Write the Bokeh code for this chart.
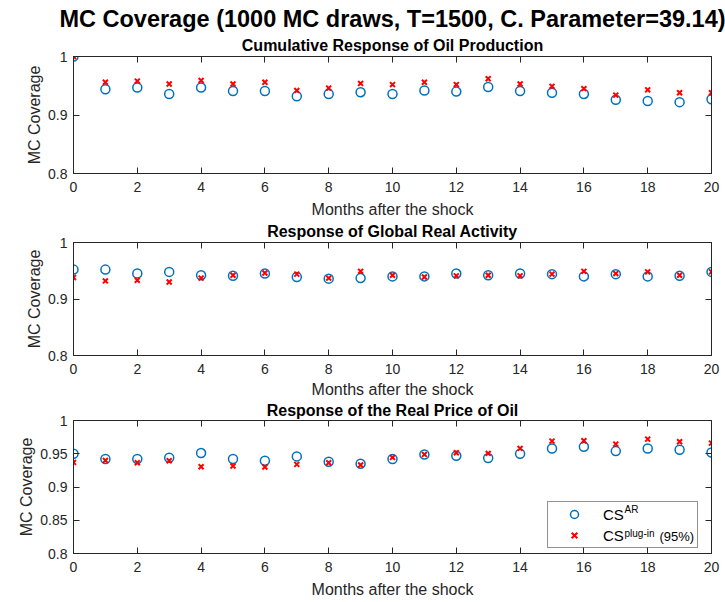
from bokeh.plotting import figure
from bokeh.models import (Range1d, FixedTicker, LinearAxis, CustomJSTickFormatter, Title,
                          Legend, LegendItem, Label, ColumnDataSource)
from bokeh.layouts import column
from bokeh.embed import file_html
from bokeh.resources import INLINE

# ---------------- data ----------------
months = list(range(21))
x_ticks = list(range(0, 21, 2))
x_tick_labels = [str(t) for t in x_ticks]
y_ticks_a = [0.8, 0.9, 1.0]
y_tick_labels_a = ["0.8", "0.9", "1"]
y_ticks_b = [0.8, 0.85, 0.9, 0.95, 1.0]
y_tick_labels_b = ["0.8", "0.85", "0.9", "0.95", "1"]

main_title = "MC Coverage (1000 MC draws, T=1500, C. Parameter=39.14)"
panel_titles = ["Cumulative Response of Oil Production",
                "Response of Global Real Activity",
                "Response of the Real Price of Oil"]
x_label = "Months after the shock"
y_label = "MC Coverage"

oil_prod_ar = [1.000, 0.944, 0.947, 0.936, 0.947, 0.941, 0.941, 0.932, 0.936, 0.939, 0.936,
               0.942, 0.940, 0.948, 0.941, 0.938, 0.936, 0.926, 0.924, 0.922, 0.927]
oil_prod_plugin = [1.000, 0.956, 0.958, 0.953, 0.959, 0.953, 0.956, 0.942, 0.946, 0.954, 0.952,
                   0.956, 0.952, 0.962, 0.953, 0.949, 0.945, 0.934, 0.943, 0.938, 0.938]

activity_ar = [0.952, 0.952, 0.945, 0.948, 0.942, 0.941, 0.945, 0.939, 0.936, 0.937, 0.940,
               0.940, 0.945, 0.942, 0.945, 0.944, 0.940, 0.944, 0.940, 0.941, 0.948]
activity_plugin = [0.938, 0.932, 0.933, 0.930, 0.937, 0.942, 0.946, 0.944, 0.937, 0.949, 0.942,
                   0.939, 0.941, 0.942, 0.941, 0.944, 0.949, 0.945, 0.948, 0.942, 0.948]

price_ar = [0.950, 0.942, 0.942, 0.944, 0.951, 0.942, 0.9395, 0.946, 0.938, 0.935, 0.942,
            0.949, 0.947, 0.9435, 0.950, 0.958, 0.9605, 0.954, 0.958, 0.956, 0.952]
price_plugin = [0.937, 0.940, 0.9365, 0.9395, 0.9305, 0.9315, 0.930, 0.934, 0.9365, 0.933, 0.9445,
                0.949, 0.9515, 0.9505, 0.958, 0.969, 0.9695, 0.9645, 0.972, 0.968, 0.966]

legend_labels = ["CS", "CS"]
legend_sups = ["AR", "plug-in"]
legend_suffix = "(95%)"

# ---------------- style ----------------
FONT = "Liberation Sans"
INK = "#262626"
BLUE = "#0072BD"
RED = "#FF0000"
FIG_W = 725


def label_formatter(vals, labels):
    return CustomJSTickFormatter(args=dict(tv=vals, tl=labels), code="""
        for (let i = 0; i < tv.length; i++) {
            if (Math.abs(tick - tv[i]) < 1e-9) { return tl[i]; }
        }
        return '';
    """)


def blank_formatter():
    return CustomJSTickFormatter(code="return '';")


def style_axis(ax, show_labels):
    ax.axis_line_color = INK
    ax.axis_line_width = 1
    ax.major_tick_line_color = INK
    ax.major_tick_line_width = 1
    ax.major_tick_in = 6
    ax.major_tick_out = 0
    ax.minor_tick_line_color = None
    ax.major_label_text_font = FONT
    ax.major_label_text_color = INK
    if show_labels:
        ax.major_label_text_font_size = "14px"
    else:
        ax.major_label_text_font_size = "0px"
        ax.major_label_standoff = 0


def make_panel(height, b_top, b_bottom, sub, sub_standoff, sub_valign, xlab_standoff,
               ar, plug, yt, yl, top_title=None):
    p = figure(width=FIG_W, height=height, x_range=Range1d(0, 20), y_range=Range1d(0.8, 1.0),
               output_backend="svg", toolbar_location=None, title=None,
               min_border_left=73, min_border_right=14,
               min_border_top=b_top, min_border_bottom=b_bottom,
               x_axis_label=x_label, y_axis_label=y_label)
    p.background_fill_color = "white"
    p.border_fill_color = "white"
    p.outline_line_color = INK
    p.outline_line_width = 1
    p.xgrid.grid_line_color = None
    p.ygrid.grid_line_color = None

    xt = FixedTicker(ticks=x_ticks)
    ytk = FixedTicker(ticks=yt)

    xa = p.xaxis[0]
    xa.ticker = xt
    xa.formatter = label_formatter(x_ticks, x_tick_labels)
    style_axis(xa, True)
    xa.major_label_standoff = 8
    xa.axis_label_standoff = xlab_standoff
    xa.axis_label_text_font = FONT
    xa.axis_label_text_font_size = "16px"
    xa.axis_label_text_font_style = "normal"
    xa.axis_label_text_color = INK

    ya = p.yaxis[0]
    ya.ticker = ytk
    ya.formatter = label_formatter(yt, yl)
    style_axis(ya, True)
    ya.major_label_standoff = 6
    ya.axis_label_standoff = 2
    ya.axis_label_text_font = FONT
    ya.axis_label_text_font_size = "16px"
    ya.axis_label_text_font_style = "normal"
    ya.axis_label_text_color = INK

    top = LinearAxis(ticker=xt, formatter=blank_formatter())
    style_axis(top, False)
    p.add_layout(top, "above")
    right = LinearAxis(ticker=ytk, formatter=blank_formatter())
    style_axis(right, False)
    p.add_layout(right, "right")

    p.add_layout(Title(text=sub, text_font=FONT, text_font_size="16px", text_font_style="bold",
                       text_color="black", align="center", standoff=sub_standoff,
                       vertical_align=sub_valign), "above")
    if top_title is not None:
        p.add_layout(Title(text=top_title, text_font=FONT, text_font_size="23.5px",
                           text_font_style="bold", text_color="black", align="center",
                           standoff=0), "above")

    src = ColumnDataSource(dict(month=months, ar=ar, plug=plug))
    c = p.scatter("month", "ar", source=src, marker="circle", size=9, fill_color=None,
                  line_color=BLUE, line_width=1.5)
    x = p.scatter("month", "plug", source=src, marker="x", size=7, line_color=RED,
                  line_width=2)
    return p, c, x


p1, _, _ = make_panel(220, 56, 47, panel_titles[0], 6, "bottom", 6,
                      oil_prod_ar, oil_prod_plugin, y_ticks_a, y_tick_labels_a,
                      top_title=main_title)
p2, _, _ = make_panel(180, 22, 43, panel_titles[1], 2, "top", 4,
                      activity_ar, activity_plugin, y_ticks_a, y_tick_labels_a)
p3, c3, x3 = make_panel(202, 20, 49, panel_titles[2], 0, "top", 6,
                        price_ar, price_plugin, y_ticks_b, y_tick_labels_b)

legend = Legend(items=[LegendItem(label=legend_labels[0], renderers=[c3]),
                       LegendItem(label=legend_labels[1], renderers=[x3])],
                location=(474, 5), orientation="vertical",
                padding=2, spacing=1, margin=0,
                glyph_width=48, glyph_height=20, label_standoff=5,
                label_width=92, label_height=20,
                label_text_font=FONT, label_text_font_size="15px", label_text_color="black",
                border_line_color=INK, border_line_width=1,
                background_fill_color="white", background_fill_alpha=0.0)
p3.add_layout(legend, "center")

sup_pos = [(551, 44), (551, 20.5)]
for txt, (lx, ly) in zip(legend_sups, sup_pos):
    p3.add_layout(Label(x=lx, y=ly, x_units="screen", y_units="screen", text=txt,
                        text_font=FONT, text_font_size="10px", text_color="black",
                        text_baseline="alphabetic", level="overlay"))
p3.add_layout(Label(x=586, y=17, x_units="screen", y_units="screen", text=legend_suffix,
                    text_font=FONT, text_font_size="13px", text_color="black",
                    text_baseline="alphabetic", level="overlay"))

layout = column(p1, p2, p3, spacing=0)
open("out.html", "w").write(file_html(layout, INLINE))
